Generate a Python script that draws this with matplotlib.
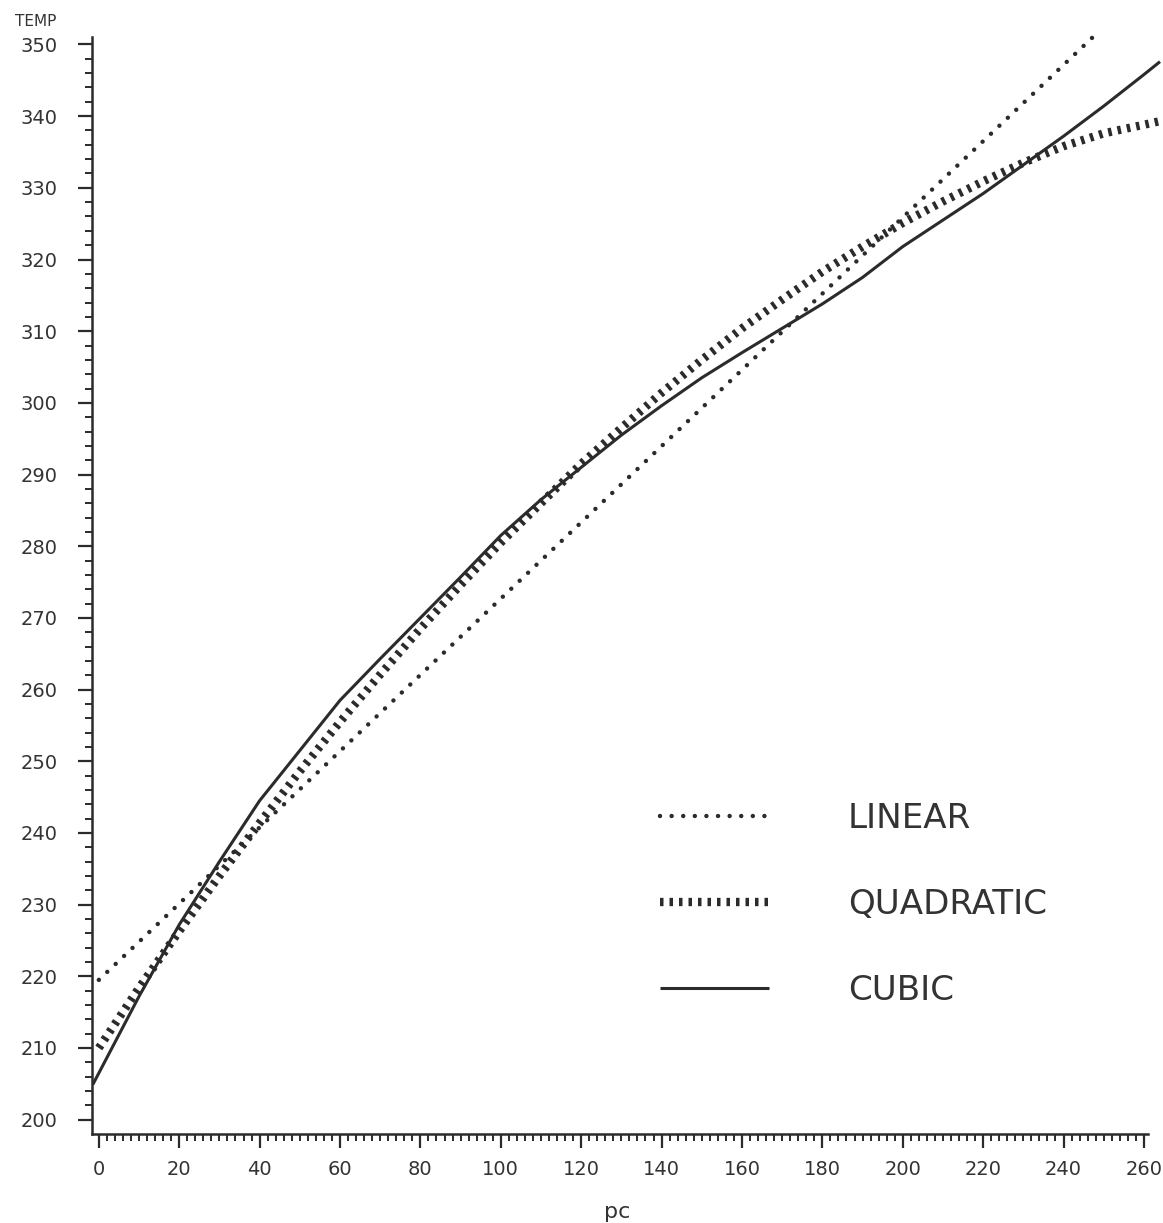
'''TEMP vs pc: linear, quadratic and cubic fits.'''
import matplotlib
matplotlib.use('Agg')
import matplotlib.pyplot as plt
from matplotlib.ticker import FixedLocator

# values
linear_x = [0, 248]
linear_y = [219.5, 351.4]

quad_x = [0, 10, 20, 30, 40, 50, 60, 70, 80, 90, 100, 110, 120, 130, 140,
          150, 160, 170, 180, 190, 200, 210, 220, 230, 240, 250, 260, 264]
quad_y = [210.0, 218.4, 226.3, 234.0, 241.4, 248.6, 255.5, 262.1, 268.5,
          274.6, 280.5, 286.0, 291.5, 296.5, 301.4, 306.0, 310.4, 314.4,
          318.3, 321.8, 325.1, 328.1, 330.9, 333.5, 335.8, 337.6, 338.8, 339.3]

cubic_x = [-1.5, 0, 10, 20, 30, 40, 50, 60, 70, 80, 90, 100, 110, 120, 130,
           140, 150, 160, 170, 180, 190, 200, 210, 220, 230, 240, 250, 260, 264]
cubic_y = [204.9, 206.5, 217.2, 227.2, 236.0, 244.5, 251.5, 258.5, 264.3,
           270.0, 275.7, 281.5, 286.5, 291.0, 295.5, 299.6, 303.5, 307.0,
           310.4, 313.8, 317.5, 321.8, 325.5, 329.2, 333.2, 337.2, 341.4,
           345.8, 347.6]

labels = ['LINEAR', 'QUADRATIC', 'CUBIC']
x_ticks = list(range(0, 261, 20))
y_ticks = list(range(200, 351, 10))

INK = '#2b2b2b'

fig = plt.figure(figsize=(11.63, 12.23), dpi=100)
ax = fig.add_axes([92 / 1163, 1 - 1134 / 1223, 1070 / 1163, 1096.7 / 1223])

l1, = ax.plot(linear_x, linear_y, color=INK, lw=3.2,
              linestyle=(0, (0.01, 2.6)), dash_capstyle='round', clip_on=False)
l2, = ax.plot(quad_x, quad_y, color=INK, lw=6.0,
              linestyle=(0, (0.42, 0.72)), dash_capstyle='butt')
l3, = ax.plot(cubic_x, cubic_y, color=INK, lw=2.2, solid_capstyle='butt')

ax.set_xlim(-1.7, 264.5)
ax.set_ylim(198, 351)

# plotter style axes: only left and bottom
for s in ['top', 'right']:
    ax.spines[s].set_visible(False)
for s in ['left', 'bottom']:
    ax.spines[s].set_linewidth(1.8)
    ax.spines[s].set_color(INK)
ax.spines['bottom'].set_bounds(-1.7, 261)

ax.set_xticks(x_ticks)
ax.set_yticks(y_ticks)
ax.xaxis.set_minor_locator(FixedLocator(range(0, 261, 2)))
ax.yaxis.set_minor_locator(FixedLocator(range(200, 351, 2)))
ax.tick_params(which='major', length=10, width=1.6, color=INK,
               labelsize=14, labelcolor='#333333')
ax.tick_params(which='minor', length=5, width=1.4, color=INK)
ax.tick_params(axis='y', which='major', pad=15)
ax.tick_params(axis='x', which='major', pad=9)

fig.text(15 / 1163, 1 - 21 / 1223, 'TEMP', fontsize=11, color='#333333',
         va='center', ha='left')
fig.text(617 / 1163, 1 - 1212 / 1223, 'pc', fontsize=16, color='#333333',
         va='center', ha='center')

ax.legend([l1, l2, l3], labels, loc='upper left',
          bbox_to_anchor=((660 - 92) / 1070, (1134 - 802) / 1096.7),
          frameon=False, borderpad=0, borderaxespad=0,
          handlelength=3.2, handletextpad=2.3, labelspacing=1.55,
          prop={'size': 24.6}, labelcolor='#333333')

plt.savefig('out.png')
